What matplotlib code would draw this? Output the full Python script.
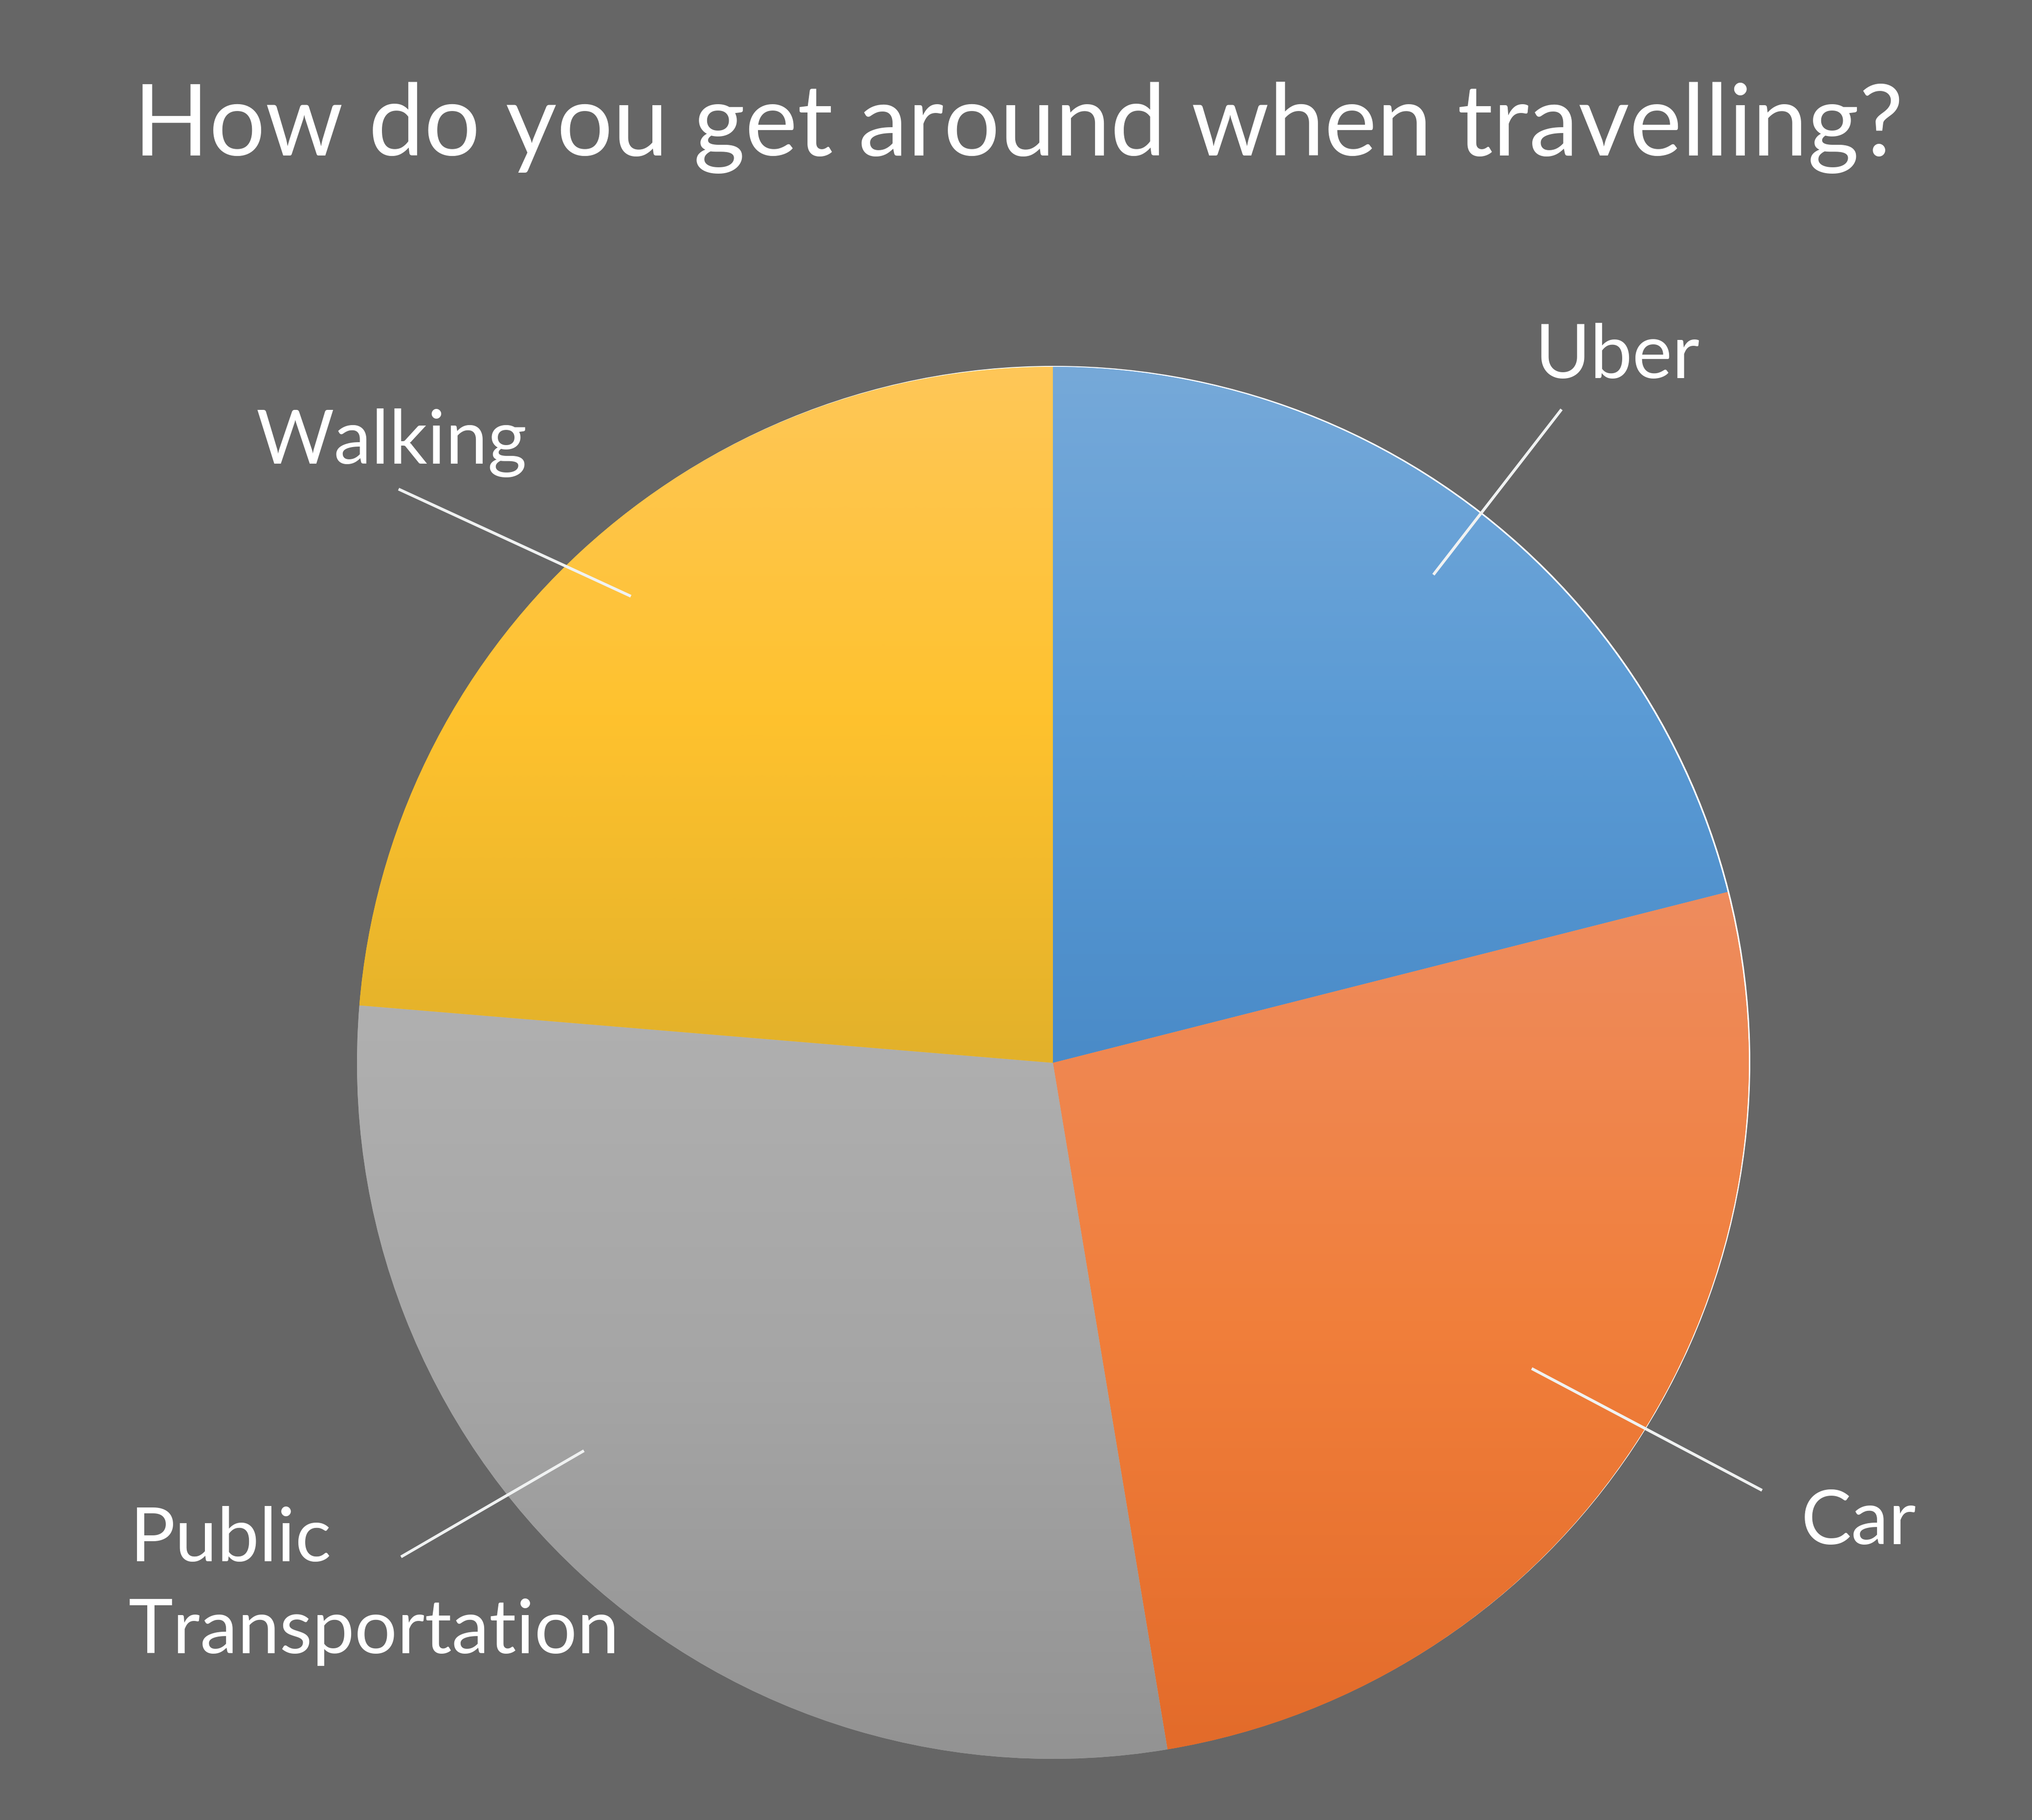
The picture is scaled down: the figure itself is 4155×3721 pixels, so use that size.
import numpy as np
import matplotlib
matplotlib.use("Agg")
import matplotlib.pyplot as plt
from matplotlib.colors import LinearSegmentedColormap
from matplotlib.patches import Circle

# ---------------- data ----------------
title = "How do you get around when travelling?"
categories = ["Uber", "Car", "Public\nTransportation", "Walking"]
values = [8, 10, 11, 9]

# gradient colours per slice: (top, middle, bottom)
grad_colors = [
    ("#76A9D9", "#5B9BD5", "#4A8BC8"),
    ("#EE8C5E", "#F17F3B", "#E36B2A"),
    ("#B0B0B0", "#A5A5A5", "#939393"),
    ("#FEC758", "#FFC22E", "#E2B12A"),
]

# ---------------- layout (pixels, y measured from top) ----------------
W, H = 4155, 3721
DPI = 100
BG = "#666666"
cx_img, cy_img, R = 2153, 2173, 1423

label_pos = {          # left x, baseline y (image px)
    "Uber": [(3138, 773)],
    "Car": [(3683, 3157)],
    "Public\nTransportation": [(266, 3192), (263, 3380)],
    "Walking": [(524, 948)],
}
leader = {             # (outer point, inner point) image px
    "Uber": ((3193, 837), (2931, 1175)),
    "Car": ((3603, 3047), (3132, 2798)),
    "Public\nTransportation": ((820, 3183), (1194, 2966)),
    "Walking": ((815, 1000), (1290, 1219)),
}

def Y(y):
    return H - y

fig = plt.figure(figsize=(W / DPI, H / DPI), dpi=DPI, facecolor=BG)
ax = fig.add_axes([0, 0, 1, 1])
ax.set_facecolor(BG)

center = (cx_img, Y(cy_img))

# faint white rim (visible on the right/top side)
rim = Circle((center[0] + 3, center[1] + 2), R, facecolor="white",
             edgecolor="none", zorder=1)
ax.add_patch(rim)

wedges, _ = ax.pie(values, startangle=90, counterclock=False,
                   colors=[c[1] for c in grad_colors], center=center,
                   radius=R, frame=True,
                   wedgeprops=dict(linewidth=0, zorder=2))

for w, (top, mid, bot) in zip(wedges, grad_colors):
    ext = w.get_path().get_extents()
    cmap = LinearSegmentedColormap.from_list("g", [bot, mid, top])
    grad = np.linspace(0, 1, 512).reshape(-1, 1)
    im = ax.imshow(grad, cmap=cmap, origin="lower", aspect="auto",
                   extent=(ext.x0, ext.x1, ext.y0, ext.y1), zorder=3,
                   interpolation="bilinear")
    im.set_clip_path(w)

ax.set_xlim(0, W)
ax.set_ylim(0, H)
ax.set_aspect("equal")
ax.axis("off")

font = dict(family=["Lato", "DejaVu Sans"], weight="normal", color="white")

ax.text(2083, Y(318), title, ha="center", va="baseline",
        fontsize=146, zorder=6, **font)

for cat in categories:
    lines = cat.split("\n")
    for txt, (x, y) in zip(lines, label_pos[cat]):
        ax.text(x, Y(y), txt, ha="left", va="baseline", fontsize=111,
                zorder=6, **font)
    (x0, y0), (x1, y1) = leader[cat]
    ax.plot([x0, x1], [Y(y0), Y(y1)], color="#F0F2F2", lw=4.2,
            solid_capstyle="butt", zorder=5)

fig.savefig("out.png", dpi=DPI, facecolor=BG)
